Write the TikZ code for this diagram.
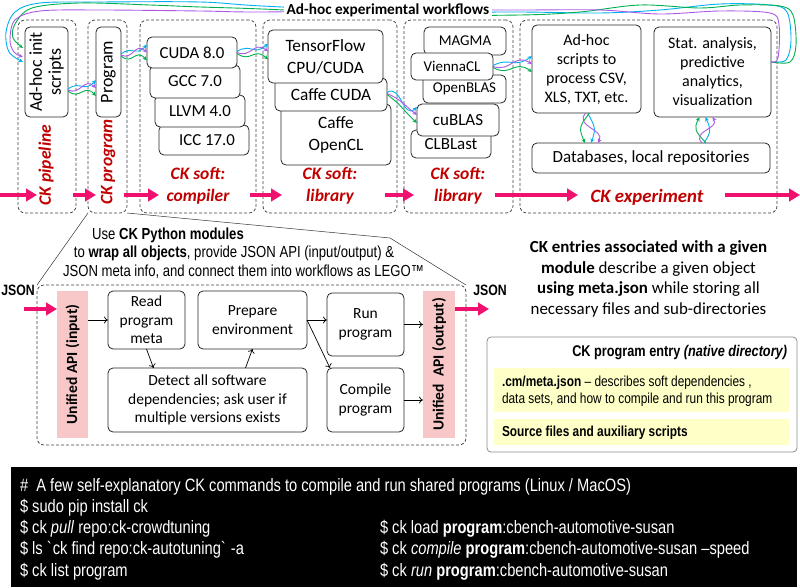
\documentclass[tikz,border=0pt]{standalone}
\usepackage{fontspec}
\setmainfont{Carlito}
\newfontfamily\narrow[FakeStretch=0.82]{Liberation Sans}
\usetikzlibrary{calc,arrows.meta}
\definecolor{ckpink}{RGB}{240,16,110}
\definecolor{ckred}{RGB}{192,0,0}
\definecolor{wblue}{RGB}{0,176,240}
\definecolor{wgreen}{RGB}{0,176,80}
\definecolor{wpurple}{RGB}{170,90,230}
\definecolor{apipink}{RGB}{248,200,200}
\definecolor{ylw}{RGB}{255,255,200}
\newcommand\fs[2]{\fontsize{#1}{#2}\selectfont}
\newcommand\hbraid[3]{%
 \draw[wb] ($(#1)+(0,-1)$) .. controls ($(#1)+(#3,-10)$) and ($(#2)-(#3,-5)$) .. ($(#2)+(0,-8)$);
 \draw[wg] ($(#1)+(0,1)$) .. controls ($(#1)+(#3,11)$) and ($(#2)-(#3,5)$) .. ($(#2)+(0,8)$);
 \draw[wp] (#1) .. controls ($(#1)+(#3,6)$) and ($(#2)-(#3,11)$) .. (#2);
}
\newcommand\vbraid[3]{%
 \draw[wb] (#1) .. controls ($(#1)+(8,#3)$) and ($(#2)-(-6,#3)$) .. ($(#2)+(1,0)$);
 \draw[wg] ($(#1)+(2,0)$) .. controls ($(#1)+(-9,#3)$) and ($(#2)-(11,#3)$) .. ($(#2)+(-5,0)$);
 \draw[wp] ($(#1)+(-2,0)$) .. controls ($(#1)+(-13,#3)$) and ($(#2)-(-15,#3)$) .. ($(#2)+(8,0)$);
}
\begin{document}
\begin{tikzpicture}[x=1pt,y=-1pt,
  every node/.style={inner sep=0pt, outer sep=0pt},
  wh/.style 2 args={minimum width=#1, minimum height=#2},
  colbox/.style={draw=black!75, dash pattern=on 3pt off 2pt, rounded corners=7pt, line width=0.75pt},
  sbox/.style={draw=black!85, fill=white, rounded corners=5pt, line width=0.8pt, align=center},
  redlab/.style={text=ckred, font=\fs{17.5}{21}\bfseries\itshape, align=center},
  pinkarr/.style={draw=ckpink, line width=3.8pt, -{Triangle[length=11pt,width=12.5pt]}},
  wb/.style={draw=wblue, line width=0.9pt, -{Stealth[length=4.5pt,width=4pt]}},
  wg/.style={draw=wgreen, line width=0.9pt, -{Stealth[length=4.5pt,width=4pt]}},
  wp/.style={draw=wpurple, line width=0.9pt, -{Stealth[length=4.5pt,width=4pt]}},
  thinarr/.style={draw=black, line width=0.7pt, -{To[length=4pt,width=7pt]}},
  funnel/.style={draw=black!80, line width=0.5pt},
  apibox/.style={fill=apipink},
  ybox/.style={fill=ylw},
  ytext/.style={anchor=west, align=left, font=\narrow\fs{14.5}{17}}
]
\useasboundingbox (0,0) rectangle (800,588);

% ---------- columns ----------
\node[colbox,wh={58}{193}] (c1) at (47,116.5) {};
\node[colbox,wh={39}{193}] (c2) at (107.5,116.5) {};
\node[colbox,wh={116}{193}] (c3) at (198,116.5) {};
\node[colbox,wh={134}{193}] (c4) at (330,116.5) {};
\node[colbox,wh={109}{193}] (c5) at (458.5,116.5) {};
\node[colbox,wh={257}{193}] (c6) at (648.5,116.5) {};

% ---------- pink flow arrows ----------
\foreach \a/\b [count=\i] in {0/37,73/96,124/159,250/282,385/414,495/578,725/800}{
  \coordinate (pa\i) at (\a,195);
  \coordinate (pb\i) at (\b,195);
  \draw[pinkarr] (pa\i) -- (pb\i);
}

% ---------- red labels ----------
\node[redlab,rotate=90] (l1) at (46,165) {CK pipeline};
\node[redlab,rotate=90] (l2) at (108,162) {CK program};
\node[redlab,font=\fs{17.5}{22}\bfseries\itshape] (l3) at (198,186) {CK soft:\\compiler};
\node[redlab,font=\fs{17.5}{22}\bfseries\itshape] (l4) at (330,186) {CK soft:\\library};
\node[redlab,font=\fs{17.5}{22}\bfseries\itshape] (l5) at (458,186) {CK soft:\\library};
\node[redlab,font=\fs{18.8}{22}\bfseries\itshape] (l6) at (647,197) {CK experiment};

% ---------- pipeline & program ----------
\node[sbox,wh={43}{90}] (adhoc) at (46.5,72) {};
\node[font=\fs{18}{19}, rotate=90, align=center] (adhoct) at (adhoc) {Ad-hoc init\\scripts};
\node[sbox,wh={25}{90}] (prog) at (108.5,72) {};
\node[font=\fs{18}{19}, rotate=90] (progt) at (prog) {Program};

% ---------- compilers ----------
\begin{scope}[every node/.append style={font=\fs{16.8}{20}}]
\node[sbox,wh={90}{30}] (icc) at (204,140) {\hspace*{6pt}ICC 17.0};
\node[sbox,wh={90}{32}] (llvm) at (200,111) {LLVM 4.0};
\node[sbox,wh={90}{33}] (gcc) at (195,81.5) {GCC 7.0};
\node[sbox,wh={90}{31}] (cuda) at (192,52.5) {CUDA 8.0};
\end{scope}

% ---------- libraries 1 ----------
\begin{scope}[every node/.append style={font=\fs{17.3}{22}}]
\node[sbox,wh={110}{61}] (caffeocl) at (336,134.5) {Caffe\\OpenCL};
\node[sbox,wh={112}{33}] (caffecuda) at (331,94.5) {Caffe CUDA};
\node[sbox,wh={115}{53}] (tf) at (325.5,56.5) {TensorFlow\\CPU/CUDA};
\end{scope}

% ---------- libraries 2 ----------
\begin{scope}[every node/.append style={font=\fs{15}{18}}]
\node[sbox,wh={82}{28}] (magma) at (465,41) {MAGMA};
\node[sbox,wh={83}{28}] (openblas) at (464.5,89) {OpenBLAS};
\node[sbox,wh={82}{27}] (vienna) at (452,66.5) {ViennaCL};
\end{scope}
\begin{scope}[every node/.append style={font=\fs{17}{20}}]
\node[sbox,wh={80}{28}] (clblast) at (451,144) {\raisebox{-3pt}{CLBLast}};
\node[sbox,wh={82}{32}] (cublas) at (458,120) {cuBLAS};
\end{scope}

% ---------- experiment ----------
\begin{scope}[every node/.append style={font=\fs{16}{19}}]
\node[sbox,wh={109}{88}] (scripts) at (586.5,69) {Ad-hoc\\scripts to\\process CSV,\\XLS, TXT, etc.};
\node[sbox,wh={117}{90}] (stat) at (712.5,72) {Stat. analysis,\\predictive\\analytics,\\visualization};
\node[sbox,wh={238}{30},font=\fs{17}{20}] (db) at (651,158) {Databases, local repositories};
\end{scope}

% ---------- braided workflow arrows ----------
\coordinate (b1s) at ($(adhoc.east)+(0,18)$);  \coordinate (b1e) at ($(prog.west)+(0,16)$);
\coordinate (b2s) at ($(prog.east)+(0,-17)$);  \coordinate (b2e) at ($(cuda.west)+(0,0)$);
\coordinate (b3s) at ($(cuda.east)+(0,0)$);    \coordinate (b3e) at ($(tf.west)+(0,-5)$);
\coordinate (b4s) at ($(caffecuda.east)+(0,-1)$); \coordinate (b4e) at ($(cublas.west)+(0,-5)$);
\coordinate (b5s) at ($(vienna.east)+(0,0)$);  \coordinate (b5e) at ($(scripts.west)+(0,-5)$);
\hbraid{b1s}{b1e}{12}
\hbraid{b2s}{b2e}{12}
\hbraid{b3s}{b3e}{14}
\hbraid{b4s}{b4e}{14}
\hbraid{b5s}{b5e}{18}
\coordinate (b6s) at ($(scripts.south)+(1,0)$); \coordinate (b6e) at ($(db.north)+(-61,0)$);
\vbraid{b6s}{b6e}{14}
\coordinate (b7s) at ($(db.north)+(53,0)$); \coordinate (b7e) at ($(stat.south)+(-8,0)$);
\vbraid{b7s}{b7e}{-12}

% ---------- big loop ----------
\coordinate (ls) at ($(stat.east)+(0,-10)$);
\coordinate (le1) at ($(adhoc.west)+(-2,-10)$);
\coordinate (le2) at ($(adhoc.west)+(-2,-24)$);
\coordinate (le3) at ($(adhoc.west)+(-2,-15)$);
\draw[wb] plot[smooth,tension=0.55] coordinates {(ls) (786,60) (791,40) (787,12) (770,5) (720,4) (660,10) (600,13) (520,12) (400,12) (262,6) (200,2) (100,2) (40,3) (15,12) (6,32) (9,52) (le1)};
\draw[wg] plot[smooth,tension=0.55] coordinates {(ls) (790,62) (796,45) (793,15) (780,6) (740,5) (700,8) (640,5) (580,12) (520,15) (400,15) (262,9) (200,7) (150,5) (80,3) (32,8) (15,24) (13,38) (le2)};
\draw[wp] plot[smooth,tension=0.55] coordinates {(ls) (778,58) (779,25) (770,13) (720,11) (660,14) (600,10) (520,10) (400,10) (262,12) (200,11) (100,10) (40,11) (15,20) (10,40) (14,52) (le3)};

% ---------- title ----------
\node[fill=white, inner xsep=3pt, inner ysep=1pt, font=\fs{15.3}{19}\bfseries] (title) at (388,10) {Ad-hoc experimental workflows};

% ---------- lower module box ----------
\node[colbox,wh={429}{160}] (low) at (251.5,365) {};
\coordinate (fb) at (390,238);
\draw[funnel] (c2.south west) -- (low.north west);
\draw[funnel] (c2.south east) -- (fb) -- (low.north east);

\node[font=\narrow\fs{16}{19}] (u1) at (168,235) {Use \textbf{CK Python modules}};
\node[font=\narrow\fs{16}{19}] (u2) at (234,253) {to \textbf{wrap all objects}, provide JSON API (input/output) \&};
\node[font=\narrow\fs{16}{19}] (u3) at (243.5,272) {JSON meta info, and connect them into workflows as LEGO™};

\node[apibox,wh={31}{147}] (apiin) at (72.5,364.5) {};
\node[font=\fs{15.5}{18}\bfseries,rotate=90] (apiint) at (apiin) {Unified API (input)};
\node[apibox,wh={32}{147}] (apiout) at (439,364.5) {};
\node[font=\fs{15.5}{18}\bfseries,rotate=90] (apioutt) at (apiout) {Unified\ \ API (output)};

\begin{scope}[every node/.append style={font=\fs{15.5}{18.5}}]
\node[sbox,wh={77}{58}] (read) at (146.5,320) {Read\\program\\meta};
\node[sbox,wh={109}{58}] (prep) at (252.5,320) {Prepare\\environment};
\node[sbox,wh={77}{63}] (run) at (365.5,324.5) {Run\\program};
\node[sbox,wh={199}{64}] (detect) at (207.5,400) {Detect all software\\dependencies; ask user if\\multiple versions exists};
\node[sbox,wh={77}{64}] (compile) at (365.5,400) {Compile\\program};
\end{scope}

\draw[thinarr] (apiin.east |- read.west) -- (read.west);
\draw[thinarr] (read.south) -- ($(detect.north)+(-54,0)$);
\draw[thinarr] ($(detect.north)+(38,0)$) -- (prep.south);
\draw[thinarr] (prep.east) -- (run.west |- prep.east);
\draw[thinarr] (prep.east) -- ($(compile.north west)+(3,0)$);
\draw[thinarr] (run.east) -- (apiout.west |- run.east);
\draw[thinarr] (compile.east) -- (apiout.west |- compile.east);

% JSON in/out
\coordinate (jin) at (24,309);
\coordinate (jout) at (489,309);
\draw[pinkarr] (jin) -- (apiin.west |- jin);
\draw[pinkarr] (apiout.east |- jout) -- (jout);
\node[font=\narrow\fs{15}{18}\bfseries] (json1) at (18,290) {JSON};
\node[font=\narrow\fs{15}{18}\bfseries] (json2) at (490,290) {JSON};

% ---------- description ----------
\node[font=\fs{16.9}{20.7}, align=center] (desc) at (648.5,279) {\textbf{CK entries associated with a given}\\\textbf{module} describe a given object\\\textbf{using meta.json} while storing all\\necessary files and sub-directories};

% ---------- program entry ----------
\node[draw=black!45, fill=white, rounded corners=4pt, line width=0.8pt, wh={310}{115}] (entry) at (642,394.5) {};
\node[anchor=east, font=\narrow\fs{15.5}{18}\bfseries] (entryt) at (787,353) {CK program entry \textit{(native directory)}};
\node[ybox,wh={295}{44}] (y1) at (641.5,390) {};
\node[ytext] (y1t) at (502,391) {\textbf{.cm/meta.json} – describes soft dependencies ,\\data sets, and how to compile and run this program};
\node[ybox,wh={295}{26}] (y2) at (641.5,432) {};
\node[ytext] (y2t) at (502,433) {\textbf{Source files and auxiliary scripts}};

% ---------- command box ----------
\node[fill=black, wh={786}{120}] (cmd) at (404,527) {};
\begin{scope}[every node/.append style={text=white, anchor=west, font=\narrow\fs{17.9}{20}}]
\node (k1) at (20,487) {\#\ \ A few self-explanatory CK commands to compile and run shared programs (Linux / MacOS)};
\node (k2) at (20,508) {\$ sudo pip install ck};
\node (k3) at (20,529) {\$ ck \textit{pull} repo:ck-crowdtuning};
\node (k4) at (20,550) {\$ ls \textasciigrave ck find repo:ck-autotuning\textasciigrave\ -a};
\node (k5) at (20,572) {\$ ck list program};
\node (k6) at (380,529) {\$ ck load \textbf{program}:cbench-automotive-susan};
\node (k7) at (380,550) {\$ ck \textit{compile} \textbf{program}:cbench-automotive-susan –speed};
\node (k8) at (380,572) {\$ ck \textit{run} \textbf{program}:cbench-automotive-susan};
\end{scope}
\end{tikzpicture}
\end{document}
